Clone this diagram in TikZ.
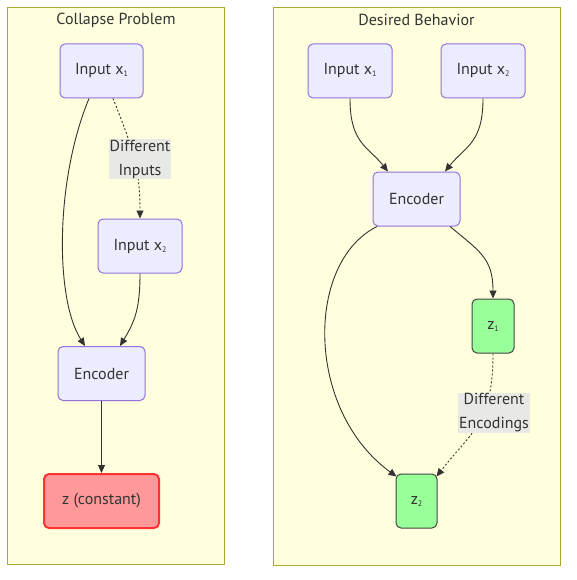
\documentclass[tikz,border=0pt]{standalone}
\usepackage{fontspec}
\setmainfont{PT Sans}
\usetikzlibrary{arrows.meta,calc}

\definecolor{clfill}{HTML}{FFFFDE}
\definecolor{clline}{HTML}{AAAA33}
\definecolor{boxfill}{HTML}{ECECFF}
\definecolor{boxline}{HTML}{9370DB}
\definecolor{zfill}{HTML}{99FF99}
\definecolor{zline}{HTML}{444444}
\definecolor{badfill}{HTML}{FF9999}
\definecolor{badline}{HTML}{FF3333}
\definecolor{lblfill}{HTML}{E8E8E4}
\definecolor{txt}{HTML}{333333}

\newcommand{\low}[1]{\raisebox{-2pt}{\fontsize{8}{8}\selectfont #1}}

\begin{document}
\begin{tikzpicture}[x=1pt,y=-1pt,
		cluster/.style={draw=clline,fill=clfill,line width=1pt},
		title/.style={text=txt,font=\fontsize{16}{19}\selectfont},
		box/.style={draw=boxline,fill=boxfill,line width=1pt,rounded corners=5pt,minimum height=54pt,text=txt,font=\fontsize{16}{19}\selectfont},
		zbox/.style={box,draw=zline,fill=zfill},
		bad/.style={box,draw=badline,fill=badfill,line width=2pt},
		lbl/.style={fill=lblfill,text=txt,align=center,inner sep=1pt,font=\fontsize{16}{24}\selectfont},
		link/.style={draw=txt,line width=0.9pt,-{Triangle[length=8pt,width=7pt]}},
		dots/.style={link,dash pattern=on 2pt off 2pt}]
		
		\useasboundingbox (0,0) rectangle (576,580);
		
		\draw[cluster] (7.5,7.5) rectangle (224,564);
		\draw[cluster] (273,7.5) rectangle (560,565);
		\node[title] (ttlA) at (116,20) {Collapse Problem};
		\node[title] (ttlB) at (416.5,20) {Desired Behavior};
		
		\node[box,minimum width=83pt] (inAa) at (101.5,71) {Input x\low{1}};
		\node[box,minimum width=84pt] (inAb) at (140,246) {Input x\low{2}};
		\node[box,minimum width=87pt] (encA) at (101.5,373.5) {Encoder};
		\node[bad,minimum width=115pt] (zA) at (101.5,501) {z (constant)};
		
		\node[box,minimum width=84pt] (inBa) at (350,71) {Input x\low{1}};
		\node[box,minimum width=84pt] (inBb) at (483,71) {Input x\low{2}};
		\node[box,minimum width=87pt] (encB) at (416.5,199) {Encoder};
		\node[zbox,minimum width=42pt] (zBa) at (493,326) {z\low{1}};
		\node[zbox,minimum width=41pt] (zBb) at (416.5,501) {z\low{2}};
		
		\draw[link] ($(inAa.south)+(-12.5,0)$) .. controls +(-34,82) and +(-30,-47) .. ($(encA.north)+(-16.5,0)$);
		\draw[dots] ($(inAa.south)+(11.5,0)$) .. controls +(20,50) and +(0,-50) .. (inAb.north);
		\draw[link] (inAb.south) .. controls +(0,35) and +(15,-25) .. ($(encA.north)+(18.5,0)$);
		\draw[link] (encA) -- (zA);
		
		\draw[link] (inBa.south) .. controls +(0,45) and +(-20,-25) .. ($(encB.north)+(-28.5,0)$);
		\draw[link] (inBb.south) .. controls +(0,45) and +(20,-25) .. ($(encB.north)+(28.5,0)$);
		\draw[link] ($(encB.south)+(-39.5,0)$) .. controls +(-72,36) and +(-91,-66) .. ($(zBb.north west)+(1,3)$);
		\draw[link] ($(encB.south)+(33.5,0)$) .. controls +(30,25) and +(0,-40) .. (zBa.north);
		\draw[dots] (zBa.south) .. controls +(0,70) and +(35,-45) .. ($(zBb.north east)+(-1,3)$);
		
		\node[lbl] (difin) at (140,159) {Different\\Inputs};
		\node[lbl] (difenc) at (494,413) {Different\\Encodings};
	
	\end{tikzpicture}
\end{document}
